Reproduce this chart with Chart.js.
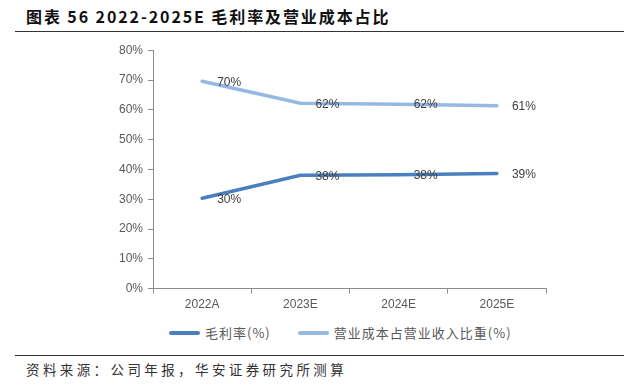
<!DOCTYPE html>
<html><head><meta charset="utf-8">
<script src="https://cdn.jsdelivr.net/npm/chart.js@4"></script>
<style>
html,body{margin:0;padding:0;background:#fff;width:624px;height:387px;overflow:hidden;position:relative;font-family:"Noto Sans CJK SC",sans-serif;}
#title{position:absolute;left:26px;top:4px;font-size:16px;font-weight:bold;color:#111;letter-spacing:1.9px;white-space:nowrap;}
#l1{position:absolute;left:15px;right:0;top:31px;height:1px;background:#333;}
#l2{position:absolute;left:15px;right:0;top:355px;height:1px;background:#333;}
#src{position:absolute;left:26px;top:359px;font-size:13.5px;color:#333;letter-spacing:3.4px;white-space:nowrap;font-family:"Noto Sans CJK SC",serif;}
#wrap{position:absolute;left:52px;top:38px;width:572px;height:278px;}
#legend{position:absolute;left:169px;top:323px;display:flex;align-items:center;white-space:nowrap;}
.item{display:flex;align-items:center;margin-right:27px;font-size:13px;letter-spacing:1px;color:#595959;}
.sw{width:31px;height:4px;border-radius:2px;margin-right:5px;}
</style></head>
<body>
<div id="title">图表 56 2022-2025E 毛利率及营业成本占比</div>
<div id="l1"></div>
<div id="wrap"><canvas id="c"></canvas></div>
<div id="legend"></div>
<div id="l2"></div>
<div id="src">资料来源：公司年报，华安证券研究所测算</div>
<script>
const categories = ["2022A","2023E","2024E","2025E"];
const grossMargin = [30.3, 38.0, 38.2, 38.6];
const costRatio = [69.6, 62.2, 61.9, 61.4];
const labelsGM = ["30%","38%","38%","39%"];
const labelsCR = ["70%","62%","62%","61%"];
const seriesNames = ["毛利率(%)","营业成本占营业收入比重(%)"];
const seriesColors = ["#4a80bd","#95b9e1"];

const dataLabels = {
  id:'dl',
  afterDatasetsDraw(chart){
    const ctx = chart.ctx;
    ctx.save();
    ctx.font = '12px "Liberation Sans", Arial, sans-serif';
    ctx.fillStyle = '#404040';
    ctx.textAlign = 'left';
    ctx.textBaseline = 'middle';
    const lbls = [labelsGM, labelsCR];
    chart.data.datasets.forEach((ds,i)=>{
      chart.getDatasetMeta(i).data.forEach((pt,j)=>{
        ctx.fillText(lbls[i][j], pt.x+15, pt.y+1);
      });
    });
    ctx.restore();
  }
};

const chart = new Chart(document.getElementById('c'),{
  type:'line',
  data:{labels:categories,datasets:[
    {label:seriesNames[0],data:grossMargin,borderColor:seriesColors[0],backgroundColor:seriesColors[0],borderWidth:3.5,pointRadius:0,tension:0,borderCapStyle:'round'},
    {label:seriesNames[1],data:costRatio,borderColor:seriesColors[1],backgroundColor:seriesColors[1],borderWidth:3.5,pointRadius:0,tension:0,borderCapStyle:'round'}
  ]},
  options:{
    responsive:true,maintainAspectRatio:false,animation:false,
    layout:{padding:{left:62,right:78,top:2,bottom:0}},
    plugins:{tooltip:{enabled:false},legend:{display:false}},
    scales:{
      x:{offset:true,
        grid:{offset:true,drawOnChartArea:false,drawTicks:true,tickLength:5,color:'#8c8c8c'},
        border:{color:'#8c8c8c',width:1},
        ticks:{color:'#595959',font:{family:'"Liberation Sans", Arial, sans-serif',size:12},padding:4}},
      y:{min:0,max:80,
        grid:{drawOnChartArea:false,drawTicks:true,tickLength:5,color:'#8c8c8c'},
        border:{color:'#8c8c8c',width:1},
        ticks:{stepSize:10,color:'#595959',font:{family:'"Liberation Sans", Arial, sans-serif',size:12},padding:5,callback:v=>v+'%'}}
    }
  },
  plugins:[dataLabels]
});

const lg = document.getElementById('legend');
chart.data.datasets.forEach(ds=>{
  const it = document.createElement('div'); it.className='item';
  const sw = document.createElement('div'); sw.className='sw'; sw.style.background=ds.borderColor;
  const tx = document.createElement('span'); tx.textContent = ds.label;
  it.appendChild(sw); it.appendChild(tx); lg.appendChild(it);
});
</script>
</body></html>
